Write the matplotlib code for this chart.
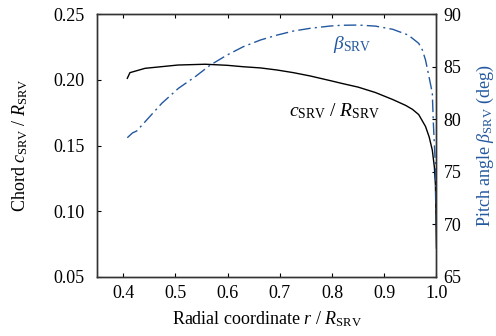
import matplotlib
matplotlib.use('Agg')
import matplotlib.pyplot as plt

plt.rcParams['font.family'] = ['Liberation Serif', 'DejaVu Serif']
plt.rcParams['mathtext.fontset'] = 'custom'
plt.rcParams['mathtext.rm'] = 'Liberation Serif'
plt.rcParams['mathtext.it'] = 'Liberation Serif:italic'
plt.rcParams['xtick.direction'] = 'in'
plt.rcParams['ytick.direction'] = 'in'

BLUE = '#23589f'

# chord distribution c/R vs r/R
r_chord = [0.408, 0.413, 0.442, 0.505, 0.557, 0.599, 0.630, 0.663, 0.695, 0.726,
           0.758, 0.797, 0.819, 0.850, 0.883, 0.916, 0.941, 0.954, 0.966, 0.979,
           0.986, 0.992, 0.996, 0.998, 1.0]
chord = [0.2011, 0.2054, 0.2087, 0.2112, 0.2118, 0.2110, 0.2099, 0.2090, 0.2074, 0.2054,
         0.2029, 0.1993, 0.1972, 0.1944, 0.1903, 0.1850, 0.1805, 0.1775, 0.1735, 0.1645,
         0.1565, 0.1465, 0.1335, 0.1200, 0.0720]

# pitch angle beta (deg) vs r/R
r_pitch = [0.408, 0.418, 0.426, 0.474, 0.506, 0.538, 0.567, 0.599, 0.630, 0.663,
           0.695, 0.726, 0.758, 0.797, 0.819, 0.850, 0.883, 0.916, 0.946, 0.966,
           0.973, 0.979, 0.985, 0.992, 0.994, 0.998, 1.0]
pitch = [78.24, 78.70, 78.88, 81.51, 82.94, 84.04, 85.15, 86.10, 86.89, 87.53,
         88.00, 88.38, 88.64, 88.86, 88.93, 88.95, 88.85, 88.55, 88.00, 87.21,
         86.58, 85.63, 84.20, 82.49, 79.64, 75.46, 69.5]

x_ticks = [0.4, 0.5, 0.6, 0.7, 0.8, 0.9, 1.0]
c_ticks = [0.05, 0.10, 0.15, 0.20, 0.25]
b_ticks = [65, 70, 75, 80, 85, 90]

fig = plt.figure(figsize=(4.96, 3.36), dpi=100)
ax = fig.add_axes([0.1956, 0.1756, 0.6844, 0.7827])
ax2 = ax.twinx()

ax.plot(r_chord, chord, color='black', lw=1.0)
ax2.plot(r_pitch, pitch, color=BLUE, lw=1.0, linestyle=(0, (9, 3, 1.5, 3)))

ax.set_xlim(0.35, 1.0)
ax.set_ylim(0.05, 0.25)
ax2.set_ylim(65, 90)
ax.set_xticks(x_ticks)
ax.set_xticklabels([f'{v:.1f}' for v in x_ticks])
ax.set_yticks(c_ticks)
ax.set_yticklabels([f'{v:.2f}' for v in c_ticks])
ax2.set_yticks(b_ticks)

ax.tick_params(axis='x', top=True, labelsize=13, length=3, pad=6)
ax.tick_params(axis='y', labelsize=13, length=3, pad=9)
ax2.tick_params(axis='y', labelsize=13, length=3, pad=5)
for a in (ax, ax2):
    for s in a.spines.values():
        s.set_linewidth(1.0)
        s.set_color('#333333')

ax.set_xlabel(r'Radial coordinate $r$ / $R_{\mathrm{SRV}}$', fontsize=13, labelpad=5)
ax.set_ylabel(r'Chord $c_{\mathrm{SRV}}$ / $R_{\mathrm{SRV}}$', fontsize=13, labelpad=17)
ax2.set_ylabel(r'Pitch angle $\beta_{\mathrm{SRV}}$ (deg)', fontsize=13, color=BLUE, labelpad=10)

ax.text(0.838, 0.227, r'$\beta_{\mathrm{SRV}}$', color=BLUE, fontsize=14, ha='center', va='center')
ax.text(0.805, 0.1765, r'$c_{\mathrm{SRV}}$ / $R_{\mathrm{SRV}}$', color='black', fontsize=14,
        ha='center', va='center')

fig.savefig('out.png', dpi=100)
